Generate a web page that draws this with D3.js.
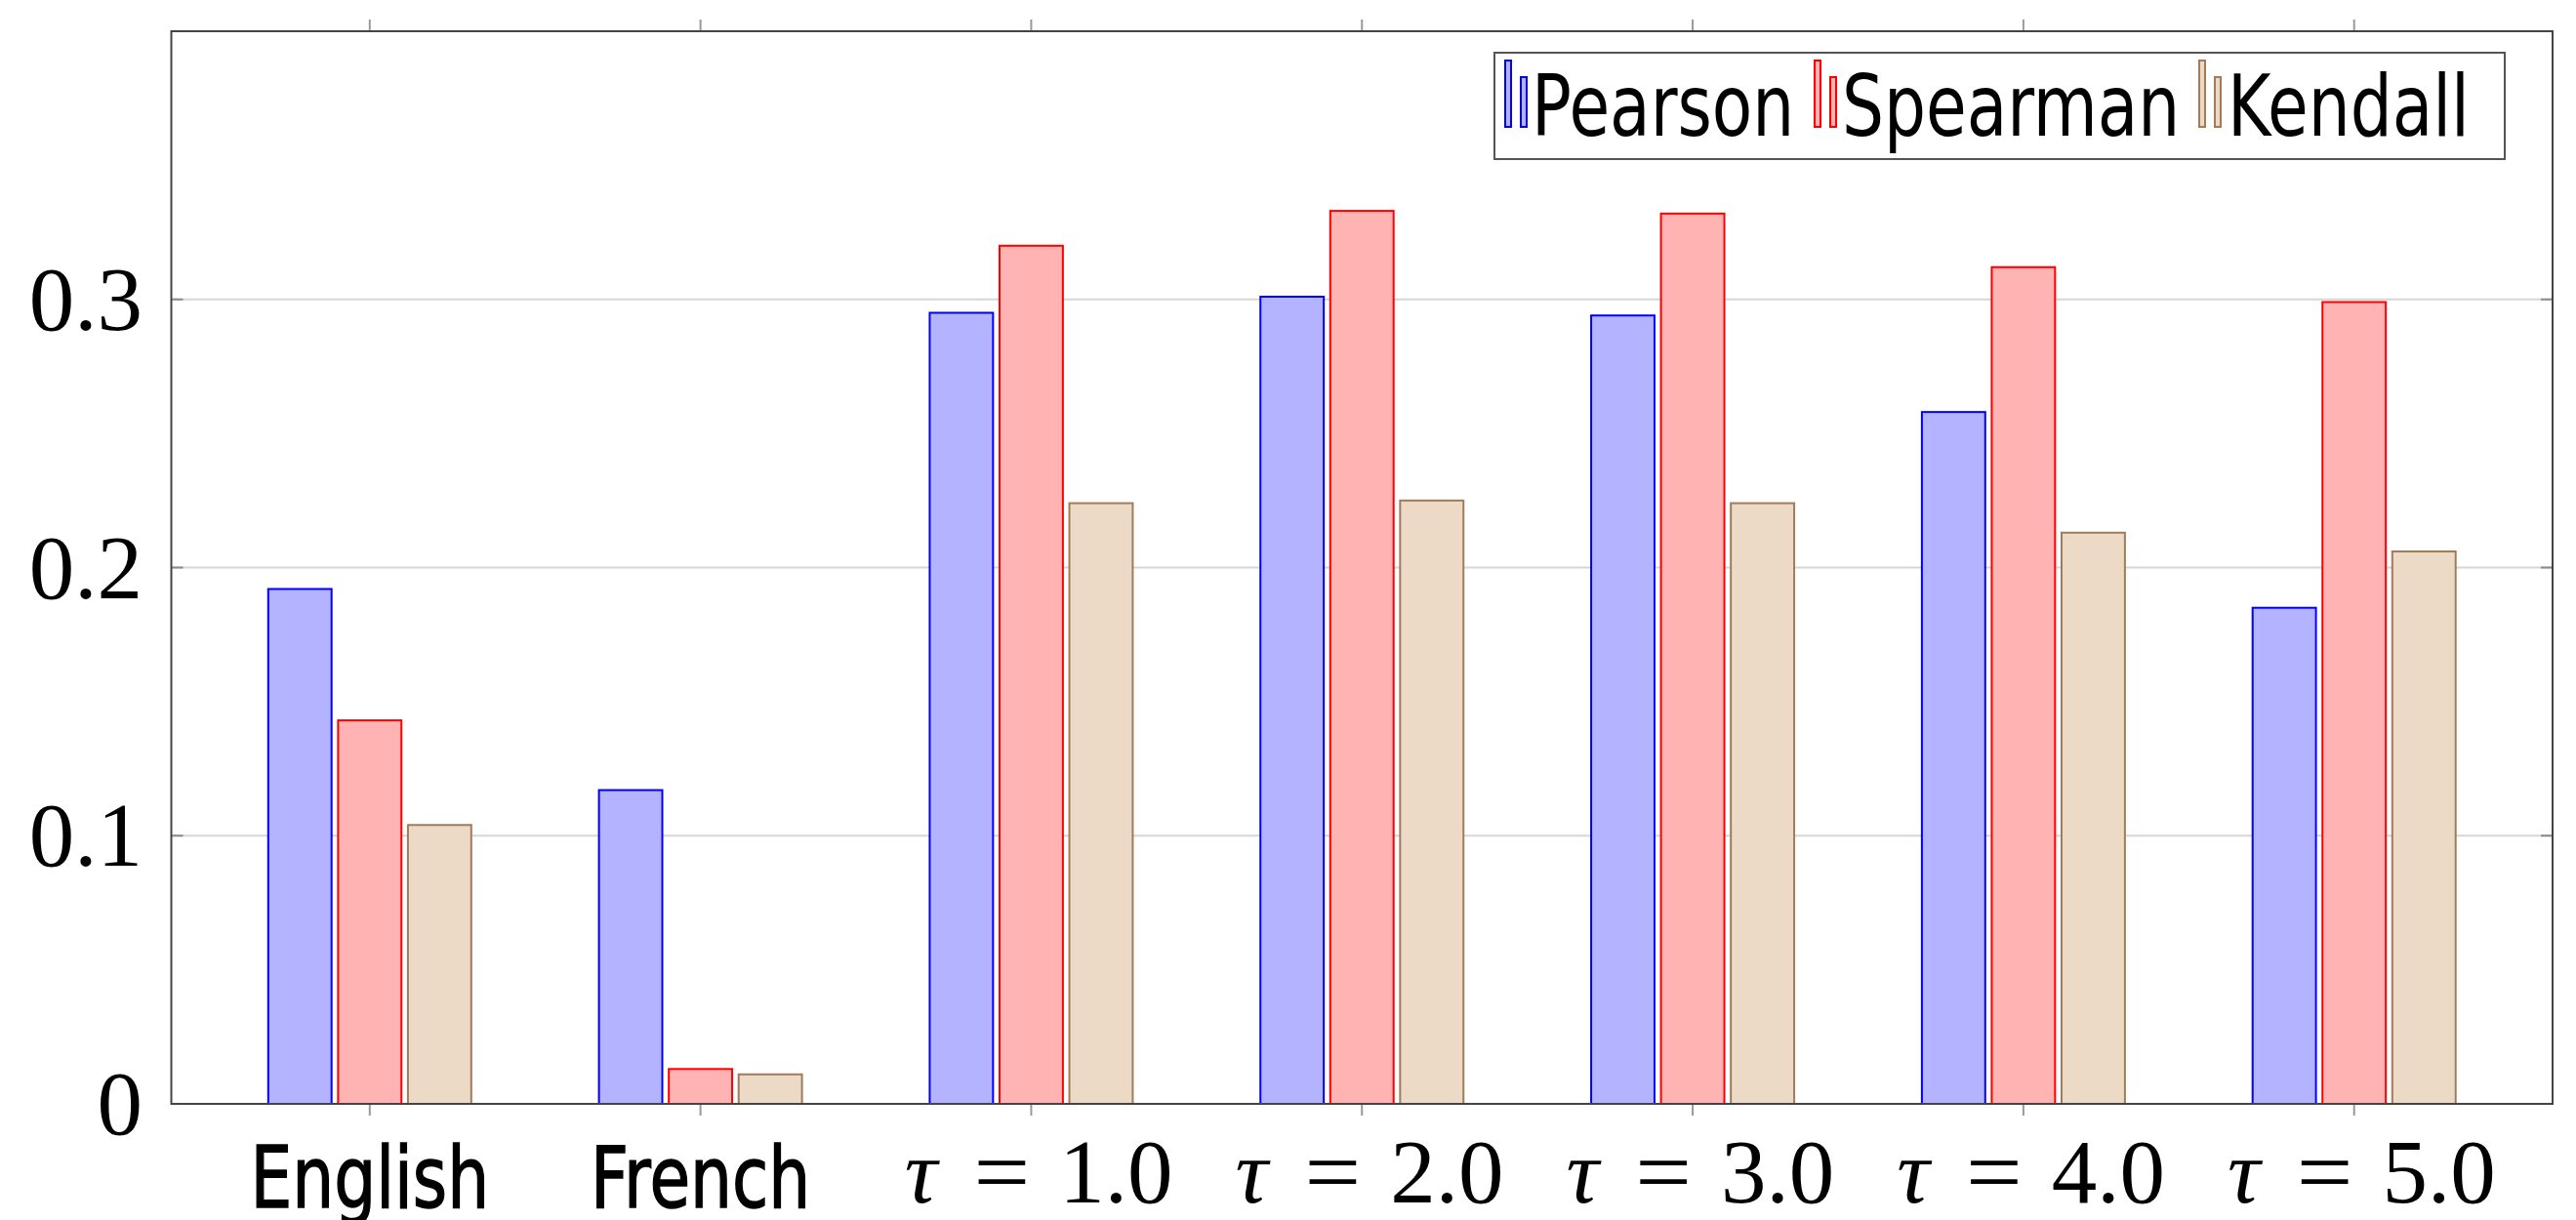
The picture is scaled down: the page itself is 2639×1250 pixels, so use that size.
<!DOCTYPE html>
<html>
<head>
<meta charset="utf-8">
<script src="https://cdn.jsdelivr.net/npm/d3@7"></script>
<style>
  body { margin: 0; background: #fff; }
  svg { display: block; }
</style>
</head>
<body>
<div id="chart"></div>
<script>
// categories et valeurs
var categories = ["English", "French", "t1", "t2", "t3", "t4", "t5"];
var tauValues = [null, null, "1.0", "2.0", "3.0", "4.0", "5.0"];
var seriesNames = ["Pearson", "Spearman", "Kendall"];
var pearson  = [0.192, 0.117, 0.295, 0.301, 0.294, 0.258, 0.185];
var spearman = [0.143, 0.013, 0.320, 0.333, 0.332, 0.312, 0.299];
var kendall  = [0.104, 0.011, 0.224, 0.225, 0.224, 0.213, 0.206];
var yTicks = [0, 0.1, 0.2, 0.3];

var W = 2639, H = 1250;
// attention: "top" est reserve (window.top), on prefixe
var plotL = 175.5, plotR = 2615, plotT = 32, plotB = 1131;

var fills = {Pearson: "#b3b3ff", Spearman: "#ffb3b3", Kendall: "#ecd9c6"};
var strokes = {Pearson: "#0000ff", Spearman: "#ff0000", Kendall: "#a07c5a"};
var values = {Pearson: pearson, Spearman: spearman, Kendall: kendall};

var svg = d3.select("#chart").append("svg").attr("width", W).attr("height", H);

// echelles
var x = d3.scalePoint().domain(categories).range([plotL, plotR]).padding(0.6);
var xs = d3.scaleBand().domain(seriesNames).range([-105, 105]).paddingInner(0.065);
var y = d3.scaleLinear().domain([0, 0.4]).range([plotB, plotT]);

// grille horizontale
svg.append("g").selectAll("line").data(yTicks.filter(function(d){ return d > 0; }))
  .enter().append("line")
  .attr("x1", plotL).attr("x2", plotR)
  .attr("y1", function(d){ return y(d); }).attr("y2", function(d){ return y(d); })
  .attr("stroke", "#d6d6d6").attr("stroke-width", 2);

// barres
seriesNames.forEach(function(s){
  svg.append("g").selectAll("rect").data(values[s]).enter().append("rect")
    .attr("x", function(d, i){ return x(categories[i]) + xs(s) + 1; })
    .attr("width", xs.bandwidth() - 2)
    .attr("y", function(d){ return y(d); })
    .attr("height", function(d){ return plotB - y(d); })
    .attr("fill", fills[s])
    .attr("stroke", strokes[s])
    .attr("stroke-width", 2);
});

// ticks y (interieur, des deux cotes)
var yt = svg.append("g");
yTicks.forEach(function(t){
  yt.append("line").attr("x1", plotL).attr("x2", plotL + 12)
    .attr("y1", y(t)).attr("y2", y(t)).attr("stroke", "#8a8a8a").attr("stroke-width", 2);
  yt.append("line").attr("x1", plotR - 12).attr("x2", plotR)
    .attr("y1", y(t)).attr("y2", y(t)).attr("stroke", "#8a8a8a").attr("stroke-width", 2);
  yt.append("text")
    .attr("x", 146).attr("y", y(t) + 31)
    .attr("text-anchor", "end")
    .attr("font-family", "'Liberation Serif', 'DejaVu Serif', serif")
    .attr("font-size", 93)
    .attr("fill", "#000")
    .text(t === 0 ? "0" : d3.format(".1f")(t));
});

// ticks x (exterieur, haut et bas)
var xt = svg.append("g");
categories.forEach(function(c){
  xt.append("line").attr("x1", x(c)).attr("x2", x(c))
    .attr("y1", plotB).attr("y2", plotB + 12).attr("stroke", "#999").attr("stroke-width", 2);
  xt.append("line").attr("x1", x(c)).attr("x2", x(c))
    .attr("y1", plotT - 12).attr("y2", plotT).attr("stroke", "#999").attr("stroke-width", 2);
});

// cadre
svg.append("rect").attr("x", plotL).attr("y", plotT)
  .attr("width", plotR - plotL).attr("height", plotB - plotT)
  .attr("fill", "none").attr("stroke", "#444").attr("stroke-width", 2);

// etiquettes x
var sansFont = "'DejaVu Sans', sans-serif";
categories.forEach(function(c, i){
  var cx = x(c);
  if (tauValues[i] === null) {
    xt.append("text")
      .attr("transform", "translate(" + cx + ",1237) scale(0.77,1)")
      .attr("text-anchor", "middle")
      .attr("font-family", sansFont).attr("font-size", 88)
      .attr("fill", "#000").attr("stroke", "#000").attr("stroke-width", 1.5)
      .text(c);
  } else {
    var g = xt.append("g").attr("font-family", "'Liberation Serif', 'DejaVu Serif', serif")
      .attr("font-size", 93).attr("fill", "#000").attr("text-anchor", "middle");
    g.append("text").attr("x", cx - 113).attr("y", 1232).attr("font-style", "italic").text("τ");
    g.append("text").attr("transform", "translate(" + (cx - 30) + ",1232) scale(1.1,1)").text("=");
    g.append("text").attr("x", cx + 87).attr("y", 1232).text(tauValues[i]);
  }
});

// legende
var lg = svg.append("g");
lg.append("rect").attr("x", 1531).attr("y", 54).attr("width", 1035).attr("height", 109)
  .attr("fill", "#fff").attr("stroke", "#555").attr("stroke-width", 2);
var legendX = [1541, 1858, 2252];
var textX = [1569, 1887, 2282];
seriesNames.forEach(function(s, i){
  lg.append("rect").attr("x", legendX[i] + 1).attr("y", 62).attr("width", 6).attr("height", 68)
    .attr("fill", fills[s]).attr("stroke", strokes[s]).attr("stroke-width", 2);
  lg.append("rect").attr("x", legendX[i] + 17).attr("y", 79).attr("width", 6).attr("height", 51)
    .attr("fill", fills[s]).attr("stroke", strokes[s]).attr("stroke-width", 2);
  lg.append("text")
    .attr("transform", "translate(" + textX[i] + ",139) scale(0.77,1)")
    .attr("font-family", sansFont).attr("font-size", 88)
    .attr("fill", "#000")
    .text(s);
});
</script>
</body>
</html>
